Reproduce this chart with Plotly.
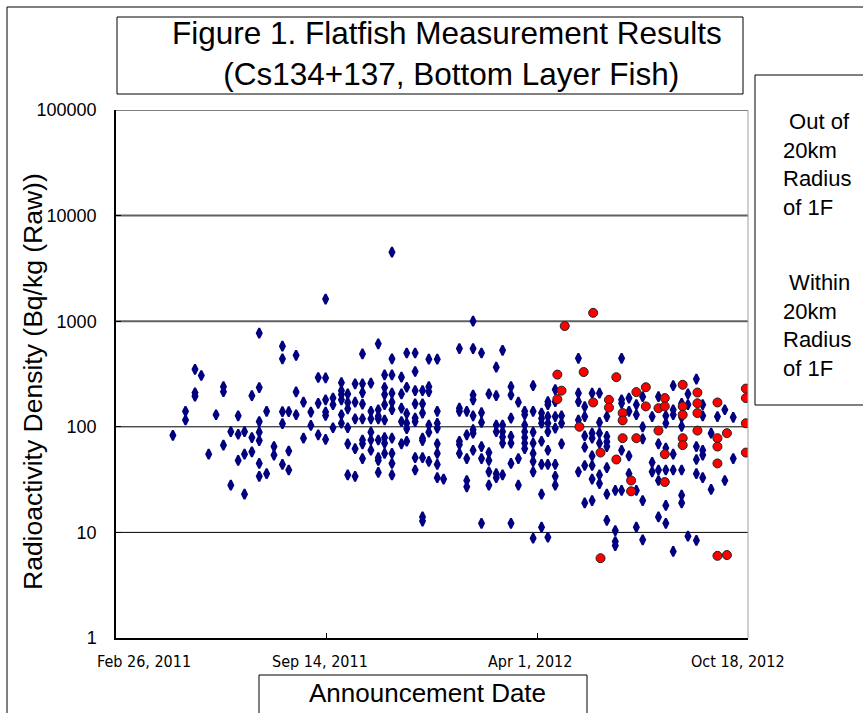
import math
import pandas as pd
import plotly.graph_objects as go

# ---------------- data ----------------
start_date = "2011-02-26"
end_date = "2012-10-18"
x_tick_dates = ["2011-02-26", "2011-09-14", "2012-04-01", "2012-10-18"]
x_tick_labels = ["Feb 26, 2011", "Sep 14, 2011", "Apr 1, 2012", "Oct 18, 2012"]
y_tick_vals = [1, 10, 100, 1000, 10000, 100000]
y_tick_labels = ["1", "10", "100", "1000", "10000", "100000"]

# Out of 20km radius of 1F (blue diamonds): days after Feb 26, 2011 and Bq/kg
blue_day = [
    54, 66, 66, 75, 75, 75, 81, 88, 95, 102, 102, 102, 109, 109,
    116, 116, 116, 122, 122, 122, 129, 129, 129,
    136, 136, 136, 136, 136, 136, 136, 143, 143, 150, 150,
    158, 158, 158, 158, 158, 164, 164, 164, 171, 171, 171,
    178, 178, 185, 185, 192, 192, 192, 199, 199, 199, 199, 199, 199,
    206, 206, 206, 214, 214, 214, 214, 214, 214,
    220, 220, 220, 220, 220, 220, 227, 227, 227, 227, 227,
    234, 234, 234, 234, 234, 234, 234, 234, 242, 242, 242, 242, 242, 242,
    249, 249, 249, 249, 249, 249, 249, 249, 255, 255, 255, 255, 255, 255, 255, 255,
    262, 262, 262, 262, 262, 262, 262, 262, 262, 262,
    271, 271, 271, 271, 271, 276, 276, 276, 276, 276, 276,
    284, 284, 284, 284, 284, 284, 284, 284, 291, 291, 291, 291, 291, 291, 291, 291,
    297, 297, 297, 297, 297, 297, 305, 305, 305, 305, 305, 305, 305, 305, 311,
    326, 326, 326, 326, 326, 326, 333, 333, 333, 333, 333,
    339, 339, 339, 339, 339, 339, 339, 339, 347, 347, 347, 347, 347, 347,
    354, 354, 354, 354, 354, 361, 361, 361, 361, 361, 361,
    367, 367, 367, 367, 367, 367, 375, 375, 375, 375, 375, 375, 375,
    382, 382, 382, 388, 388, 388, 388, 388, 388, 388,
    396, 396, 396, 396, 396, 396, 396, 396,
    404, 404, 404, 404, 404, 404, 404, 410, 410, 410, 410, 410, 410, 410, 410,
    417, 417, 417, 417, 417, 417, 417, 423, 423, 423,
    439, 439, 439, 439, 439, 445, 445, 445, 445, 445, 445,
    452, 452, 452, 452, 452, 452, 452, 459, 459, 459, 459, 459, 459,
    466, 466, 466, 466, 466, 466, 466, 474, 474, 474, 474,
    480, 480, 480, 480, 480, 487, 487, 487, 487,
    494, 494, 494, 494, 500, 500, 500, 500, 500,
    509, 509, 509, 515, 515, 515, 515, 515,
    522, 522, 522, 522, 522, 522, 529, 529, 529, 529, 529, 529,
    537, 537, 537, 537, 537, 537, 543, 543, 543,
    551, 551, 551, 551, 551, 557, 557, 557, 557, 557,
    565, 565, 571, 578, 578, 586, 586,
]
blue_bq = [
    83, 140, 116, 350, 210, 195, 306, 55, 130, 240, 215, 67, 90, 28,
    127, 85, 48, 90, 55, 23, 197, 79, 58,
    770, 235, 112, 89, 74, 45, 34, 140, 36, 65, 54,
    580, 440, 139, 107, 44, 139, 59, 39, 475, 214, 130,
    171, 78, 138, 103, 293, 167, 84, 1620, 290, 180, 138, 128, 76,
    187, 162, 98, 262, 220, 202, 180, 130, 108,
    205, 170, 148, 98, 69, 35, 255, 171, 119, 62, 34,
    490, 255, 211, 164, 119, 75, 69, 50, 259, 140, 119, 89, 75, 60,
    610, 145, 126, 119, 75, 51, 48, 37, 310, 235, 202, 162, 116, 79, 70, 56,
    4500, 440, 310, 208, 171, 145, 78, 56, 45, 35,
    295, 205, 150, 112, 69, 500, 237, 133, 108, 96, 73,
    500, 334, 220, 165, 121, 112, 51, 39, 220, 165, 135, 78, 74, 51, 14, 12.8,
    437, 240, 215, 104, 89, 47, 437, 140, 108, 97, 69, 56, 44, 33, 32,
    550, 150, 140, 73, 68, 56, 140, 84, 50, 31, 27,
    1000, 550, 200, 180, 127, 94, 87, 60, 500, 136, 110, 65, 50, 12.2,
    205, 57, 48, 37.5, 28, 367, 197, 104, 90, 36, 33,
    530, 104, 90, 80, 70, 35, 240, 200, 121, 81, 70, 45, 12.2,
    171, 50, 28, 140, 130, 104, 90, 79, 70, 62,
    245, 140, 89, 70, 56, 47, 37.5, 8.8,
    135, 120, 108, 73, 44, 23, 11.2, 173, 162, 125, 108, 90, 60, 44, 9,
    225, 173, 125, 97, 44, 34, 28, 127, 108, 69,
    445, 208, 173, 116, 37.5, 155, 125, 82, 64, 43, 19,
    208, 87, 78, 53, 43, 32, 20, 208, 110, 87, 70, 35, 29,
    125, 81, 72, 65, 41, 23, 13, 25, 10.4, 8.2, 7.5,
    445, 180, 167, 60, 25, 187, 140, 53, 36,
    162, 130, 25, 11.2, 193, 100, 77, 20, 8.5,
    125, 46, 37.5, 193, 69, 39, 31, 14,
    127, 108, 63, 39, 18, 12.2, 245, 145, 130, 55, 39, 6.6,
    167, 123, 101, 39, 22.5, 19, 205, 162, 9.2,
    283, 65, 49, 36, 8.4, 162, 127, 60, 54, 33,
    87, 25.5, 125, 145, 31, 123, 50,
]

# Within 20km radius of 1F (red circles)
red_day = [
    419, 419, 423, 426, 440, 444, 453, 453, 460, 460, 468, 468, 475, 475,
    481, 481, 481, 489, 489, 494, 494, 503, 503, 515, 515,
    521, 521, 521, 521, 538, 538, 538, 538, 538, 552, 552, 552, 552,
    571, 571, 571, 571, 571, 580, 580, 598, 598, 598, 598,
]
red_bq = [
    312, 183, 220, 900, 100, 330, 1200, 170, 57, 5.7, 180, 152, 295, 49,
    135, 115, 78, 31, 24.5, 213, 78, 237, 156, 150, 92,
    187, 156, 55, 30, 250, 156, 130, 78, 67, 211, 167, 135, 92,
    170, 78, 65, 45, 6, 87, 6.1, 230, 187, 108, 57,
]

assert len(blue_day) == len(blue_bq)
assert len(red_day) == len(red_bq)

base = pd.Timestamp(start_date)
blue_dates = [base + pd.Timedelta(days=d) for d in blue_day]
red_dates = [base + pd.Timedelta(days=d) for d in red_day]

# ---------------- layout geometry (pixels) ----------------
W, H = 863, 713
PL, PR, PT, PB = 116, 748, 110, 638


def px(x):
    return x / W


def py(y):
    return 1 - y / H


FONT = "Liberation Sans, Arial, sans-serif"
NARROW = "Liberation Sans Narrow, Arial Narrow, DejaVu Sans Condensed, sans-serif"

fig = go.Figure()
fig.add_trace(go.Scatter(
    x=blue_dates, y=blue_bq, mode="markers",
    marker=dict(symbol="diamond-tall", size=7, color="#000080",
                line=dict(color="#000080", width=2)),
    name="Out of 20km Radius of 1F",
))
fig.add_trace(go.Scatter(
    x=red_dates, y=red_bq, mode="markers",
    marker=dict(symbol="circle", size=9, color="#FF0000",
                line=dict(color="#222222", width=1)),
    name="Within 20km Radius of 1F",
))

shapes = []
for v, col, w in [(10, "#000000", 1), (100, "#000000", 1), (1000, "#606060", 2),
                  (10000, "#606060", 2), (100000, "#808080", 2)]:
    shapes.append(dict(type="line", xref="paper", yref="y", x0=px(PL), x1=px(PR),
                       y0=v, y1=v, line=dict(color=col, width=w), layer="below"))
shapes.append(dict(type="line", xref="paper", yref="paper", x0=px(PR), x1=px(PR),
                   y0=py(PT), y1=py(PB), line=dict(color="#a0a0a0", width=1)))
shapes.append(dict(type="line", xref="paper", yref="paper", x0=px(7), x1=px(7),
                   y0=py(7), y1=py(720), line=dict(color="#000000", width=1)))
shapes.append(dict(type="line", xref="paper", yref="paper", x0=px(7), x1=px(870),
                   y0=py(7), y1=py(7), line=dict(color="#000000", width=1)))
shapes.append(dict(type="rect", xref="paper", yref="paper", x0=px(117), x1=px(743),
                   y0=py(17), y1=py(94), line=dict(color="#000000", width=1)))
shapes.append(dict(type="rect", xref="paper", yref="paper", x0=px(755), x1=px(875),
                   y0=py(75), y1=py(405), line=dict(color="#000000", width=1)))
shapes.append(dict(type="rect", xref="paper", yref="paper", x0=px(259), x1=px(587),
                   y0=py(675), y1=py(725), line=dict(color="#000000", width=1)))

annotations = []
annotations.append(dict(
    text="Figure 1. Flatfish Measurement Results<br>\u00a0(Cs134+137, Bottom Layer Fish)",
    xref="paper", yref="paper", x=px(447), y=py(54), xanchor="center", yanchor="middle",
    showarrow=False, font=dict(family=FONT, size=31.5, color="#000000"), align="center"))
annotations.append(dict(
    text="Radioactivity Density (Bq/kg (Raw))", textangle=-90,
    xref="paper", yref="paper", x=px(33), y=py(382), xanchor="center", yanchor="middle",
    showarrow=False, font=dict(family=FONT, size=26.5, color="#000000")))
annotations.append(dict(
    text="Announcement Date", xref="paper", yref="paper", x=px(427), y=py(693),
    xanchor="center", yanchor="middle", showarrow=False,
    font=dict(family=FONT, size=26, color="#000000")))
annotations.append(dict(
    text="\u00a0Out of<br>20km<br>Radius<br>of 1F", xref="paper", yref="paper",
    x=px(781), y=py(164), xanchor="left", yanchor="middle", align="left",
    showarrow=False, font=dict(family=FONT, size=22, color="#000000")))
annotations.append(dict(
    text="\u00a0Within<br>20km<br>Radius<br>of 1F", xref="paper", yref="paper",
    x=px(781), y=py(325), xanchor="left", yanchor="middle", align="left",
    showarrow=False, font=dict(family=FONT, size=22, color="#000000")))
for lab, cx in zip(x_tick_labels, [144, 320, 530, 738]):
    annotations.append(dict(
        text=lab, xref="paper", yref="paper", x=px(cx), y=py(661),
        xanchor="center", yanchor="middle", showarrow=False,
        font=dict(family=NARROW, size=16, color="#000000")))

fig.update_layout(
    width=W, height=H, autosize=False,
    margin=dict(l=0, r=0, t=0, b=0, pad=0, autoexpand=False),
    paper_bgcolor="white", plot_bgcolor="white",
    showlegend=False,
    shapes=shapes, annotations=annotations,
    xaxis=dict(
        type="date", range=[start_date, end_date],
        domain=[px(PL), px(PR)], automargin=False,
        tickvals=x_tick_dates, ticks="inside", ticklen=5, tickcolor="#000000",
        showticklabels=False, showgrid=False, zeroline=False,
        showline=True, linecolor="#000000", linewidth=1.5,
    ),
    yaxis=dict(
        type="log", range=[0, 5],
        domain=[py(PB), py(PT)], automargin=False,
        tickvals=y_tick_vals, ticktext=y_tick_labels,
        ticks="inside", ticklen=5, tickcolor="#000000",
        ticklabelstandoff=14,
        tickfont=dict(family=FONT, size=18, color="#000000"),
        showgrid=False, zeroline=False,
        showline=True, linecolor="#000000", linewidth=1.5,
    ),
)

fig.write_html(
    "out.html",
    config={"displayModeBar": False},
    post_script="document.body.style.margin='0';document.body.style.overflow='hidden';",
)
